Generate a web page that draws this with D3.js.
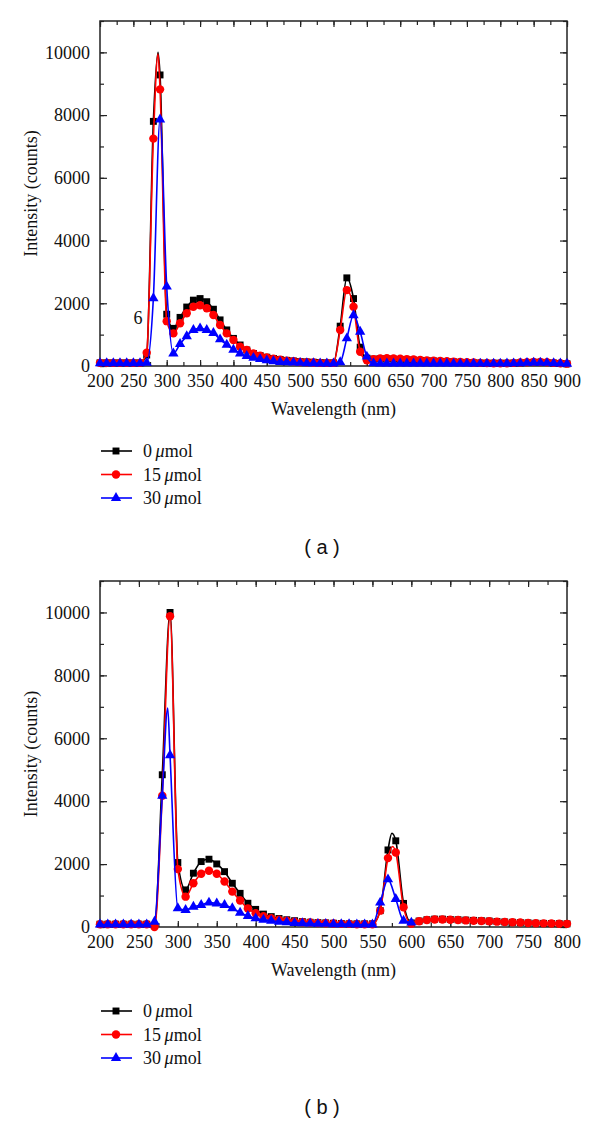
<!DOCTYPE html>
<html><head><meta charset="utf-8">
<script src="https://cdn.jsdelivr.net/npm/d3@7"></script>
<style>body{margin:0;background:#fff}</style>
</head><body><svg id="c" width="600" height="1122"></svg>
<script>
// ---------- DATA ----------
const seriesNames = ["0", "15", "30"];   // μmol
const seriesColors = ["#000000", "#ff0000", "#0000ff"];

// panel (a): wavelength 200–900 nm
const wavelengthA = [200,210,220,230,240,250,260,270,280,290,300,310,320,330,340,350,360,370,380,390,400,410,420,430,440,450,460,470,480,490,500,510,520,530,540,550,560,570,580,590,600,610,620,630,640,650,660,670,680,690,700,710,720,730,740,750,760,770,780,790,800,810,820,830,840,850,860,870,880,890,900];
const black_a = [100,100,100,100,100,100,100,350,7800,9280, 1650,1200,1550,1880,2100,2150,2050,1810,1470,1150, 880,670,510,400,330,280,240,210,180,160, 140,130,120,110,100,100,1270,2810,2150,600, 250,220,230,230,220,210,200,190,180,170, 160,150,140,130,120,110,100,95,90,90, 90,90,95,100,110,120,120,110,95,80, 70];
const red_a   = [100,100,100,100,100,100,100,420,7250,8820, 1430,1040,1360,1680,1890,1940,1840,1625,1305,1040, 830,615,510,400,330,270,230,200,170,150, 130,120,110,100,100,100,1150,2420,1890,455, 180,220,240,250,240,230,220,210,190,180, 170,160,150,140,130,120,110,100,95,90, 90,90,100,110,120,130,130,120,100,85, 75];
const blue_a  = [90,90,90,90,90,90,90,100,2160,7860, 2530,400,700,950,1150,1200,1150,1050,850,680, 520,400,320,260,220,180,150,130,120,110, 100,90,90,80,80,80,120,880,1620,1090, 300,90,80,80,80,80,80,80,80,80, 80,80,80,75,75,75,75,75,75,75, 75,80,85,90,100,105,105,100,90,80, 70];
// line apexes (not on a marker)
const apex_a = [[[287,10000]], [[287,9950]], []];

// panel (b): wavelength 200–800 nm (30 μmol stops at 600)
const wavelengthB = [200,210,220,230,240,250,260,270,280,290,300,310,320,330,340,350,360,370,380,390,400,410,420,430,440,450,460,470,480,490,500,510,520,530,540,550,560,570,580,590,600,610,620,630,640,650,660,670,680,690,700,710,720,730,740,750,760,770,780,790,800];
const black_b = [90,90,90,90,90,90,90,50,4840,10000, 2050,1180,1710,2080,2155,2005,1760,1390,1070,755, 560,410,330,270,230,200,170,150,140,130, 120,110,100,100,100,100,520,2450,2740,750, 130,190,230,250,250,240,230,220,210,200, 190,175,160,150,140,130,120,115,110,105, 100];
const red_b   = [90,90,90,90,90,90,90,0,4170,9880, 1840,965,1390,1690,1790,1690,1445,1125,840,590, 435,340,280,230,200,170,150,140,130,120, 110,100,100,90,90,90,520,2190,2370,625, 100,180,220,240,240,230,220,210,200,190, 180,170,160,150,140,130,120,115,110,105, 100];
const blue_b  = [80,80,80,80,80,80,80,170,4170,5460, 595,540,645,700,775,750,700,595,455,350, 275,230,200,170,150,130,120,110,100,100, 90,90,90,80,80,80,775,1515,890,200, 140];
const apex_b = [[[575,2980]], [[576,2560]], [[287,6960]]];

const yTicks = [0,2000,4000,6000,8000,10000];
const xTicksA = [200,250,300,350,400,450,500,550,600,650,700,750,800,850,900];
const xTicksB = [200,250,300,350,400,450,500,550,600,650,700,750,800];

// ---------- DRAW ----------
const svg = d3.select("#c");
const FS = 18;
const SERIF = "'Liberation Serif', 'DejaVu Serif', serif";
const SANS = "'Liberation Sans', Arial, sans-serif";

function txt(sel) { return sel.style("font-family", SERIF).attr("font-size", FS).attr("fill", "#111"); }

function panel(cfg) {
  const {top, bottom, left, right, xmax, wl, series, apex, xTicks, label, labelY, legendY} = cfg;
  const x = d3.scaleLinear().domain([200, xmax]).range([left, right]);
  const y = d3.scaleLinear().domain([0, 11000]).range([bottom, top]);
  const g = svg.append("g");

  const minorX = d3.range(200, xmax + 1, 25);
  const minorY = d3.range(0, 11001, 1000);

  function ax(gen, tr, vals, size, fmt, pad) {
    const a = g.append("g").attr("transform", tr)
      .call(gen.tickValues(vals).tickSize(size).tickSizeOuter(0).tickPadding(pad).tickFormat(fmt));
    a.select(".domain").remove();
    a.selectAll("line").attr("stroke", "#222").attr("stroke-width", 1.2);
    a.selectAll("text").call(txt);
    return a;
  }
  // minor ticks
  ax(d3.axisBottom(x), `translate(0,${bottom})`, minorX, -4, () => "", 0);
  ax(d3.axisTop(x), `translate(0,${top})`, minorX, -4, () => "", 0);
  ax(d3.axisLeft(y), `translate(${left},0)`, minorY, -4, () => "", 0);
  ax(d3.axisRight(y), `translate(${right},0)`, minorY, -4, () => "", 0);
  // major ticks
  ax(d3.axisBottom(x), `translate(0,${bottom})`, xTicks, -6, d3.format("d"), 8);
  ax(d3.axisTop(x), `translate(0,${top})`, xTicks, -6, () => "", 0);
  ax(d3.axisLeft(y), `translate(${left},0)`, yTicks, -7, d3.format("d"), 10);
  ax(d3.axisRight(y), `translate(${right},0)`, yTicks, -7, () => "", 0);

  g.append("rect").attr("x", left).attr("y", top).attr("width", right - left).attr("height", bottom - top)
    .attr("fill", "none").attr("stroke", "#222").attr("stroke-width", 1.5);

  // axis titles
  g.append("text").attr("x", (left + right) / 2).attr("y", bottom + 49).attr("text-anchor", "middle")
    .call(txt).text("Wavelength (nm)");
  g.append("text").attr("transform", `translate(37,${(top + bottom) / 2}) rotate(-90)`).attr("text-anchor", "middle")
    .call(txt).text("Intensity (counts)");

  const symbols = [d3.symbolSquare, d3.symbolCircle, d3.symbolTriangle];
  const sizes = [48, 56, 46];
  const line = d3.line().x(d => x(d[0])).y(d => y(d[1])).curve(d3.curveMonotoneX);

  series.forEach((vals, i) => {
    const pts = vals.map((v, k) => [wl[k], v]);
    const linePts = pts.concat(apex[i]).sort((a, b) => a[0] - b[0]);
    g.append("path").attr("d", line(linePts)).attr("fill", "none")
      .attr("stroke", seriesColors[i]).attr("stroke-width", 1.6);
    g.append("g").selectAll("path").data(pts).join("path")
      .attr("transform", d => `translate(${x(d[0])},${y(d[1])})`)
      .attr("d", d3.symbol().type(symbols[i]).size(sizes[i]))
      .attr("fill", seriesColors[i]);
  });

  // legend
  series.forEach((s, i) => {
    const ly = legendY + i * 23.5;
    const lg = g.append("g");
    lg.append("line").attr("x1", 101).attr("x2", 132).attr("y1", ly).attr("y2", ly)
      .attr("stroke", seriesColors[i]).attr("stroke-width", 1.6);
    lg.append("path").attr("transform", `translate(116,${ly})`)
      .attr("d", d3.symbol().type(symbols[i]).size(sizes[i])).attr("fill", seriesColors[i]);
    const t = lg.append("text").attr("x", 143).attr("y", ly + 6).call(txt);
    t.append("tspan").text(seriesNames[i] + "\u2009");
    t.append("tspan").attr("font-style", "italic").text("\u03bc");
    t.append("tspan").text("mol");
  });

  svg.append("text").attr("x", 322).attr("y", labelY).attr("text-anchor", "middle")
    .style("font-family", SANS).attr("font-size", 20).attr("fill", "#111").text("( " + label + " )");
  return {x, y, g};
}

const pa = panel({top: 21, bottom: 366, left: 100, right: 567, xmax: 900, wl: wavelengthA,
  series: [black_a, red_a, blue_a], apex: apex_a, xTicks: xTicksA, label: "a", labelY: 554, legendY: 451});
pa.g.append("text").attr("x", 138).attr("y", 324).attr("text-anchor", "middle").call(txt).text("6");

panel({top: 581, bottom: 927, left: 100, right: 567, xmax: 800, wl: wavelengthB,
  series: [black_b, red_b, blue_b], apex: apex_b, xTicks: xTicksB, label: "b", labelY: 1114, legendY: 1011});
</script></body></html>
